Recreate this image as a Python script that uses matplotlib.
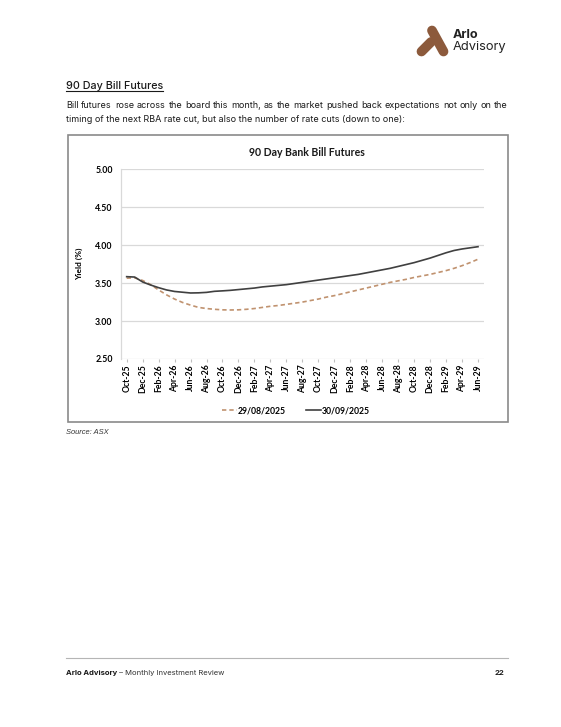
import numpy as np
import matplotlib
matplotlib.use("Agg")
import matplotlib.pyplot as plt
from matplotlib.lines import Line2D

# ---------------- data ----------------
tick_labels = ["Oct-25", "Dec-25", "Feb-26", "Apr-26", "Jun-26", "Aug-26", "Oct-26", "Dec-26",
               "Feb-27", "Apr-27", "Jun-27", "Aug-27", "Oct-27", "Dec-27", "Feb-28", "Apr-28",
               "Jun-28", "Aug-28", "Oct-28", "Dec-28", "Feb-29", "Apr-29", "Jun-29"]

# monthly yields, Oct-25 .. Jun-29
yield_aug = [3.565, 3.57, 3.535, 3.48, 3.41, 3.345, 3.29, 3.245, 3.21, 3.18, 3.165, 3.155,
             3.148, 3.146, 3.148, 3.155, 3.165, 3.18, 3.195, 3.205, 3.22, 3.235, 3.25, 3.27,
             3.29, 3.315, 3.335, 3.36, 3.385, 3.41, 3.435, 3.46, 3.485, 3.51, 3.53, 3.55,
             3.575, 3.595, 3.615, 3.64, 3.665, 3.695, 3.73, 3.77, 3.815]
yield_sep = [3.585, 3.58, 3.515, 3.475, 3.44, 3.41, 3.39, 3.38, 3.37, 3.372, 3.378, 3.392,
             3.398, 3.405, 3.415, 3.425, 3.435, 3.45, 3.46, 3.47, 3.48, 3.495, 3.51, 3.525,
             3.54, 3.555, 3.57, 3.585, 3.60, 3.615, 3.635, 3.655, 3.675, 3.695, 3.72, 3.745,
             3.77, 3.80, 3.83, 3.865, 3.90, 3.93, 3.95, 3.965, 3.98]
series_names = ["29/08/2025", "30/09/2025"]
y_ticks = [2.50, 3.00, 3.50, 4.00, 4.50, 5.00]

para_line1 = ("Bill futures rose across the board this month, as the market pushed back "
              "expectations not only on the")
para_line2 = "timing of the next RBA rate cut, but also the number of rate cuts (down to one):"

# ---------------- page ----------------
W, H = 561, 727
fig = plt.figure(figsize=(W / 100, H / 100), dpi=100)
fig.patch.set_facecolor("white")
renderer = fig.canvas.get_renderer()

PAGE_FONT = "Inter"
CHART_FONT = "Lato"
BROWN = "#8c5a3c"


def px(x, y):
    # page pixel (from top-left) -> figure fraction
    return x / W, 1 - y / H


def text_width(t):
    return t.get_window_extent(renderer).width


def fit_text(x, y, s, target_w, size=8, **kw):
    t = fig.text(*px(x, y), s, fontsize=size, **kw)
    t.set_fontsize(size * target_w / text_width(t))
    return t


def justify(x0, x1, y, s, size, **kw):
    words = s.split()
    texts = [fig.text(0, 0, w, fontsize=size, va="center", **kw) for w in words]
    widths = [text_width(t) for t in texts]
    gap = (x1 - x0 - sum(widths)) / (len(words) - 1)
    x = x0
    for t, w in zip(texts, widths):
        t.set_position(px(x, y))
        x += w + gap


# logo
fig.add_artist(Line2D([432 / W, 443.5 / W], [1 - 30.5 / H, 1 - 51.5 / H], lw=7,
                      color=BROWN, solid_capstyle="round"))
fig.add_artist(Line2D([421.5 / W, 431 / W], [1 - 51.5 / H, 1 - 42 / H], lw=7,
                      color=BROWN, solid_capstyle="round"))
fit_text(453, 35, "Arlo", 26, family=PAGE_FONT, fontweight="bold", va="center", color="#222222")
fit_text(453, 47, "Advisory", 54, family=PAGE_FONT, va="center", color="#222222")

# heading
fit_text(66, 86, "90 Day Bill Futures", 97, family=PAGE_FONT, fontweight="medium",
         va="center", color="#1a1a1a")
fig.add_artist(Line2D([66 / W, 163 / W], [1 - 91 / H, 1 - 91 / H], lw=0.8, color="#1a1a1a"))

# paragraph
l2 = fit_text(66, 120, para_line2, 338, family=PAGE_FONT, va="center", color="#1a1a1a")
justify(66, 508, 106, para_line1, l2.get_fontsize(), family=PAGE_FONT, color="#1a1a1a")

# chart frame
fig.add_artist(plt.Rectangle(px(67.5, 422), 440.5 / W, 287 / H, fill=False,
                             edgecolor="#8a8a8a", lw=1.2, transform=fig.transFigure))

# ---------------- chart ----------------
ax = fig.add_axes([121 / W, 1 - 359 / H, 363 / W, 189.7 / H])
months = np.arange(len(yield_sep))

ax.plot(months, yield_aug, color="#c0926f", lw=1.2, linestyle=(0, (2.6, 1.8)),
        label=series_names[0])
ax.plot(months, yield_sep, color="#404040", lw=1.2, label=series_names[1])

ax.set_ylim(2.5, 5.0)
ax.set_xlim(-0.71, 44.75)
ax.set_yticks(y_ticks)
ax.set_yticklabels([f"{v:.2f}" for v in y_ticks], fontsize=6.3, family=CHART_FONT,
                   fontweight="bold")
ax.set_xticks(np.arange(0, len(yield_sep), 2))
ax.set_xticklabels(tick_labels, rotation=90, fontsize=6.2, family=CHART_FONT,
                   fontweight="bold")
ax.tick_params(axis="y", length=0, pad=6)
ax.tick_params(axis="x", length=2.5, color="#bfbfbf", pad=1.5)
ax.grid(axis="y", color="#d9d9d9", lw=0.9)
ax.set_axisbelow(True)
for side in ["top", "right", "bottom"]:
    ax.spines[side].set_visible(False)
ax.spines["left"].set_color("#d9d9d9")
ax.spines["left"].set_linewidth(0.9)

ax.set_ylabel("Yield (%)", fontsize=6, family=CHART_FONT, fontweight="bold")
ax.yaxis.set_label_coords((83 - 121) / 363, 0.5)
fig.text(*px(307, 152), "90 Day Bank Bill Futures", fontsize=7.6, family=CHART_FONT,
         fontweight="bold", ha="center", va="center", color="#1a1a1a")

fig.legend(*ax.get_legend_handles_labels(), loc="center", bbox_to_anchor=px(296, 411),
           ncol=2, frameon=False, handlelength=1.7, handletextpad=0.15, columnspacing=2.3,
           prop={"family": CHART_FONT, "weight": "bold", "size": 6.2})

# source
fig.text(*px(66, 433), "Source: ASX", fontsize=5.4, family="Liberation Sans", style="italic",
         va="center", color="#333333")

# footer
fig.add_artist(Line2D([66 / W, 508 / W], [1 - 657.5 / H, 1 - 657.5 / H], lw=0.8,
                      color="#b5b5b5"))
f1 = fig.text(*px(66, 673), "Arlo Advisory", fontsize=5.5, family=PAGE_FONT,
              fontweight="bold", va="center", color="#1a1a1a")
fig.text(*px(66 + text_width(f1), 673), " \u2013 Monthly Investment Review", fontsize=5.5,
         family=PAGE_FONT, va="center", color="#333333")
fig.text(*px(504, 673), "22", fontsize=5.5, family=PAGE_FONT, fontweight="bold",
         ha="right", va="center", color="#1a1a1a")

fig.savefig("out.png", dpi=100)
